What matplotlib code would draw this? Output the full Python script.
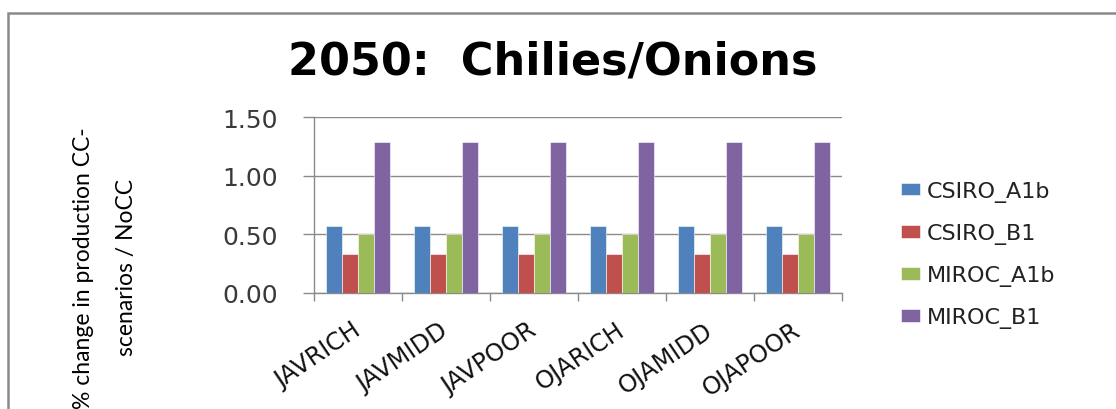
import matplotlib
matplotlib.use("Agg")
import matplotlib.pyplot as plt
import numpy as np
from matplotlib.patches import Rectangle

categories = ["JAVRICH", "JAVMIDD", "JAVPOOR", "OJARICH", "OJAMIDD", "OJAPOOR"]
series_names = ["CSIRO_A1b", "CSIRO_B1", "MIROC_A1b", "MIROC_B1"]
csiro_a1b = [0.57, 0.57, 0.57, 0.57, 0.57, 0.57]
csiro_b1 = [0.33, 0.33, 0.33, 0.33, 0.33, 0.33]
miroc_a1b = [0.50, 0.50, 0.50, 0.50, 0.50, 0.50]
miroc_b1 = [1.29, 1.29, 1.29, 1.29, 1.29, 1.29]
yticks = [0.0, 0.5, 1.0, 1.5]
ytick_labels = ["0.00", "0.50", "1.00", "1.50"]

colors = ["#4F81BD", "#C0504D", "#9BBB59", "#8064A2"]
W, H = 1116, 410
fig = plt.figure(figsize=(W / 100, H / 100), dpi=100)
fig.patch.set_facecolor("white")

# outer chart frame
fig.patches.append(Rectangle((8 / W, -0.2), 1.2, (H - 14) / H + 0.2,
                             transform=fig.transFigure, fill=False,
                             edgecolor="#8a8a8a", linewidth=1.8, zorder=0))

ax = fig.add_axes([314 / W, 1 - 294 / H, (842 - 314) / W, (294 - 118) / H])
x = np.arange(len(categories))
bw = 1 / 5.5
all_series = [csiro_a1b, csiro_b1, miroc_a1b, miroc_b1]
for i, (vals, name, c) in enumerate(zip(all_series, series_names, colors)):
    ax.bar(x + (i - 1.5) * bw, vals, width=bw, color=c, label=name,
           edgecolor="white", linewidth=0.4, zorder=3)

ax.set_xlim(-0.5, len(categories) - 0.5)
ax.set_ylim(0, 1.5)
ax.set_yticks(yticks)
ax.set_yticklabels(ytick_labels, fontsize=18, color="#3a3a3a", family="DejaVu Sans")
ax.yaxis.grid(True, color="#8a8a8a", linewidth=1.0, zorder=0)
ax.set_axisbelow(True)
ax.tick_params(axis="y", length=8, width=1, color="#8a8a8a", pad=18)

ax.set_xticks(x)
ax.set_xticklabels(categories, rotation=34, ha="right", va="center",
                   rotation_mode="anchor", fontsize=17.5, family="DejaVu Sans",
                   color="#111111")
ax.tick_params(axis="x", length=0, pad=25)
ax.set_xticks(np.arange(-0.5, len(categories) + 0.5, 1), minor=True)
ax.tick_params(axis="x", which="minor", length=6, width=1, color="#8a8a8a")

for s in ["top", "right"]:
    ax.spines[s].set_visible(False)
for s in ["left", "bottom"]:
    ax.spines[s].set_color("#8a8a8a")
    ax.spines[s].set_linewidth(1.0)

fig.text(553 / W, 1 - 62 / H, "2050:  Chilies/Onions", ha="center", va="center",
         fontsize=32, fontweight="bold", family="DejaVu Sans", color="black")

fig.text(105 / W, 1 - 268 / H, "% change in production CC-\nscenarios / NoCC",
         rotation=90, ha="center", va="center", multialignment="center",
         fontsize=16.5, family="Lato", linespacing=2.3, color="black")

leg = ax.legend(loc="upper left", bbox_to_anchor=(901 / W, 1 - 182 / H),
                bbox_transform=fig.transFigure, frameon=False,
                prop={"family": "DejaVu Sans", "size": 16},
                handlelength=0.85, handleheight=0.5, handletextpad=0.3,
                labelspacing=0.95, borderaxespad=0, borderpad=0)
for t in leg.get_texts():
    t.set_color("#222222")

fig.savefig("out.png", dpi=100, facecolor="white")
